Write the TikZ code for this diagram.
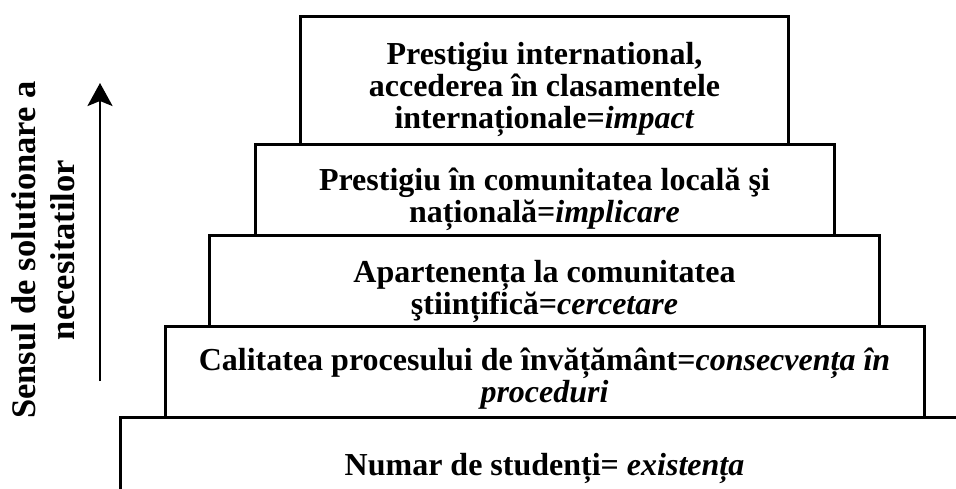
\documentclass[tikz,border=0pt]{standalone}
\usepackage{fontspec}
\setmainfont{Liberation Serif}
\usetikzlibrary{arrows.meta, positioning}

\begin{document}
\begin{tikzpicture}[x = 1pt, y = 1pt,
    stepbox/.style = {draw, line width = 3pt, inner sep = 0pt, anchor = north, minimum height = 91pt},
    steptext/.style = {anchor = north, align = center, inner sep = 0pt,
        font = \fontsize{32}{32}\selectfont\bfseries}]
    % Frame
    \useasboundingbox (0,0) rectangle (956,488);
    \clip (0,0) rectangle (956,488);

    % Steps
    \node[stepbox, minimum width = 488pt, minimum height = 128pt] (s1) at (544.5,473) {};
    \node[stepbox, minimum width = 579pt] (s2) at (544.5,345) {};
    \node[stepbox, minimum width = 670pt] (s3) at (544.5,254) {};
    \node[stepbox, minimum width = 759pt] (s4) at (544.5,163) {};
    \node[stepbox, minimum width = 849pt] (s5) at (544.5,72) {};

    % Texts
    \node[steptext, below = 27.5pt of s1.north] (t1) {Prestigiu international,\\accederea în clasamentele\\internaționale=\textit{impact}};
    \node[steptext, below = 24.5pt of s2.north] (t2) {Prestigiu în comunitatea locală şi\\națională=\textit{implicare}};
    \node[steptext, below = 26.5pt of s3.north] (t3) {Apartenența la comunitatea\\ştiințifică=\textit{cercetare}};
    \node[steptext, below = 22.5pt of s4.north] (t4) {Calitatea procesului de învățământ=\textit{consecvența în}\\\textit{proceduri}};
    \node[steptext, below = 37pt of s5.north] (t5) {Numar de studenți= \textit{existența}};

    % Direction
    \coordinate (arrbot) at (100,107);
    \coordinate (arrtop) at (100,405);
    \draw[line width = 2.7pt, -{Stealth[length = 23pt, width = 25pt, inset = 5pt]}] (arrbot) -- (arrtop);
    \node[rotate = 90, align = center, font = \fontsize{34.5}{39}\selectfont\bfseries] (sens) at (43,238) {Sensul de solutionare a\\necesitatilor};
\end{tikzpicture}
\end{document}
